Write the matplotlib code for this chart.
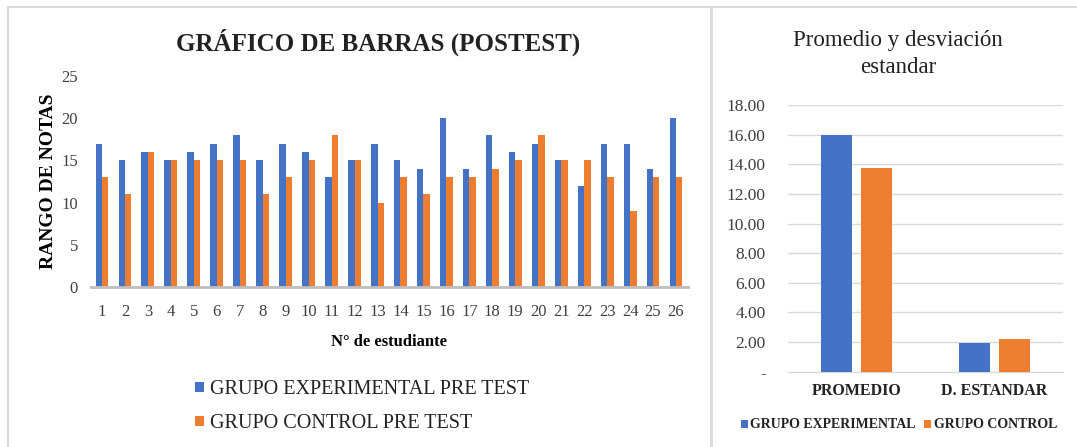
import numpy as np
import matplotlib
matplotlib.use("Agg")
import matplotlib.pyplot as plt
from matplotlib.lines import Line2D
from matplotlib.ticker import FuncFormatter


### Data ###
estudiantes = [str(i) for i in range(1, 27)]
grupo_experimental = [17, 15, 16, 15, 16, 17, 18, 15, 17, 16, 13, 15, 17,
                      15, 14, 20, 14, 18, 16, 17, 15, 12, 17, 17, 14, 20]
grupo_control = [13, 11, 16, 15, 15, 15, 15, 11, 13, 15, 18, 15, 10,
                 13, 11, 13, 13, 14, 15, 18, 15, 15, 13, 9, 13, 13]

resumen_cats = ["PROMEDIO", "D. ESTANDAR"]
resumen_experimental = [16.00, 1.91]
resumen_control = [13.73, 2.18]

BLUE = "#4472C4"
ORANGE = "#ED7D31"
SERIF = ["Liberation Serif", "DejaVu Serif"]

plt.rcParams["font.family"] = SERIF

W, H = 1077, 447
fig = plt.figure(figsize=(W / 100, H / 100), dpi=100)


def px(x0, y0, x1, y1):
    # pixel box (top-left origin) -> figure fraction rect
    return [x0 / W, 1 - y1 / H, (x1 - x0) / W, (y1 - y0) / H]


### Panel borders ###
border = "#D9D9D9"
fig.add_artist(Line2D([8 / W, 8 / W], [0, 1 - 7 / H], color=border, lw=1.5,
                      transform=fig.transFigure))
fig.add_artist(Line2D([8 / W, 1], [1 - 7 / H, 1 - 7 / H], color=border, lw=1.5,
                      transform=fig.transFigure))
fig.add_artist(Line2D([711 / W, 711 / W], [0, 1 - 7 / H], color=border, lw=2,
                      transform=fig.transFigure))


### Left chart ###
ax = fig.add_axes(px(90.5, 76, 687.5, 287))
x = np.arange(1, len(estudiantes) + 1)
bw = 0.28
ax.bar(x - bw / 2, grupo_experimental, width=bw, color=BLUE,
       label="GRUPO EXPERIMENTAL PRE TEST")
ax.bar(x + bw / 2, grupo_control, width=bw, color=ORANGE,
       label="GRUPO CONTROL PRE TEST")
ax.set_xlim(0.5, 26.5)
ax.set_ylim(0, 25)
ax.set_yticks([0, 5, 10, 15, 20, 25])
ax.set_xticks(x)
ax.set_xticklabels(estudiantes)
ax.tick_params(length=0, labelsize=12, colors="#404040")
ax.tick_params(axis="x", pad=12)
ax.tick_params(axis="y", pad=9)
for s in ["top", "right", "left"]:
    ax.spines[s].set_visible(False)
ax.spines["bottom"].set_color("#BFBFBF")
ax.spines["bottom"].set_linewidth(2)
ax.set_xlabel("N° de estudiante", fontsize=12, fontweight="bold", labelpad=10)
ax.set_ylabel("RANGO DE NOTAS", fontsize=14, fontweight="bold", labelpad=3)

fig.text(378 / W, 1 - 42 / H, "GRÁFICO DE BARRAS (POSTEST)", fontsize=18,
         fontweight="bold", ha="center", va="center", color="#222222")

ax.legend(loc="upper left", bbox_to_anchor=(177 / W, 1 - 362 / H),
          bbox_transform=fig.transFigure, frameon=False, fontsize=14.5,
          handlelength=0.45, handleheight=0.45, handletextpad=0.3,
          labelspacing=0.75, labelcolor="#222222")


### Right chart ###
ax2 = fig.add_axes(px(788, 105, 1063, 371.7))
c = np.arange(len(resumen_cats))
bw2 = 0.225
ax2.bar(c - 0.145, resumen_experimental, width=bw2, color=BLUE,
        label="GRUPO EXPERIMENTAL", zorder=3)
ax2.bar(c + 0.145, resumen_control, width=bw2, color=ORANGE,
        label="GRUPO CONTROL", zorder=3)
ax2.set_xlim(-0.5, 1.5)
ax2.set_ylim(0, 18)
ax2.set_yticks(np.arange(0, 19, 2))
ax2.yaxis.set_major_formatter(FuncFormatter(lambda v, p: "-" if v == 0 else f"{v:.2f}"))
ax2.set_xticks(c)
ax2.set_xticklabels(resumen_cats, fontweight="bold")
ax2.tick_params(length=0, labelsize=11.5, colors="#404040")
ax2.tick_params(axis="y", labelsize=12.5, pad=16)
ax2.tick_params(axis="x", pad=8, labelcolor="#222222")
ax2.grid(axis="y", color="#D9D9D9", lw=1, zorder=0)
for s in ["top", "right", "left"]:
    ax2.spines[s].set_visible(False)
ax2.spines["bottom"].set_color("#D9D9D9")

fig.text(898 / W, 1 - 54 / H, "Promedio y desviación\nestandar", fontsize=16.5,
         ha="center", va="center", linespacing=1.4, color="#222222")

ax2.legend(loc="center", bbox_to_anchor=(899 / W, 1 - 425 / H),
           bbox_transform=fig.transFigure, frameon=False, ncol=2,
           prop={"size": 10, "weight": "bold"}, handlelength=0.5,
           handleheight=0.5, handletextpad=0.2, columnspacing=0.6,
           labelcolor="#222222")

fig.savefig("out.png", dpi=100)
